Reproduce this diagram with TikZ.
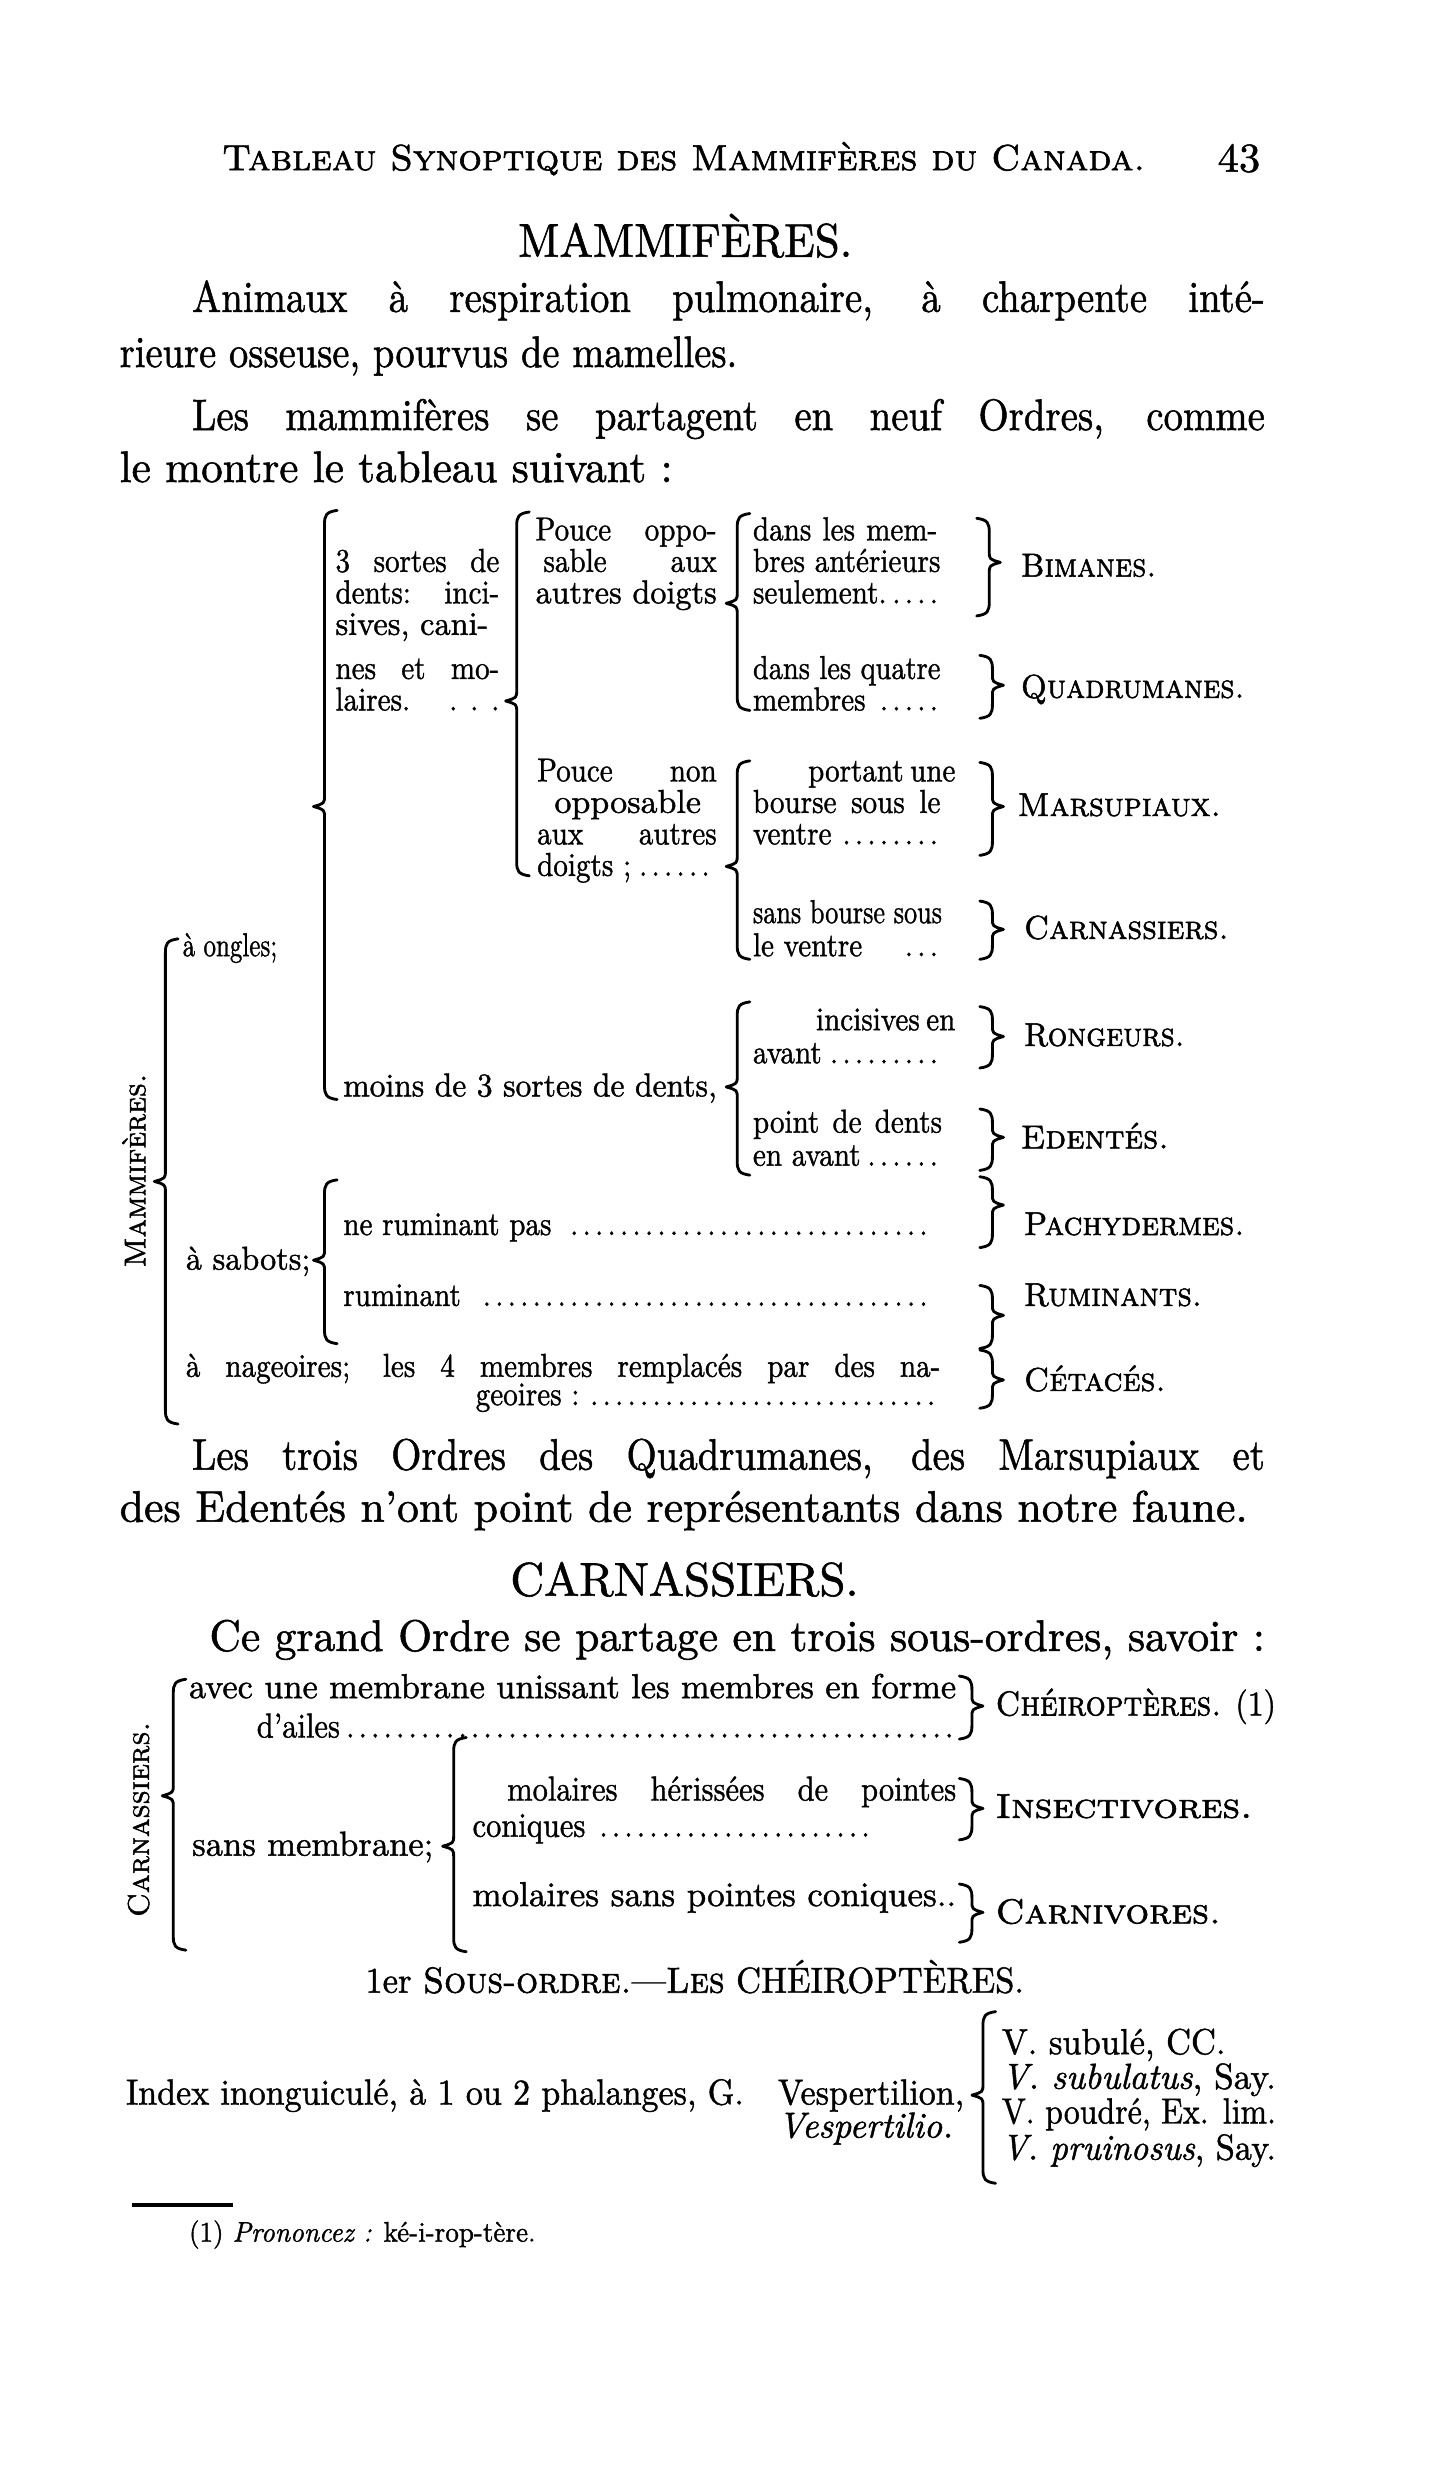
\documentclass[tikz,border=0pt]{standalone}
\usepackage{fontspec}
\setmainfont{lmroman10-regular.otf}[
  UprightFeatures={FakeBold=1.2},
  ItalicFont=lmroman10-italic.otf,
  ItalicFeatures={FakeBold=1.2},
  SmallCapsFont=lmromancaps10-regular.otf,
  SmallCapsFeatures={FakeBold=1.6}]
\usepackage{graphicx}
\def\bh{8}
\def\bt{7}
\newcommand\LBr[4]{\draw[brc] ({#1+\bh},{#2-1}) .. controls ({#1+1},#2) and (#1,{#2+2}) .. (#1,{#2+\bh}) -- (#1,{#3-\bt}) .. controls (#1,{#3-2}) .. ({#1-\bt},#3) .. controls (#1,{#3+2}) .. (#1,{#3+\bt}) -- (#1,{#4-\bh}) .. controls (#1,{#4-2}) and ({#1+1},#4) .. ({#1+\bh},{#4+1});}
\newcommand\RBr[4]{\draw[brc] ({#1-\bh},{#2-1}) .. controls ({#1-1},#2) and (#1,{#2+2}) .. (#1,{#2+\bh}) -- (#1,{#3-\bt}) .. controls (#1,{#3-2}) .. ({#1+\bt},#3) .. controls (#1,{#3+2}) .. (#1,{#3+\bt}) -- (#1,{#4-\bh}) .. controls (#1,{#4-2}) and ({#1-1},#4) .. ({#1-\bh},{#4+1});}
\newcommand\SL[6][]{\node[tx,#1] (#2) at (#3,#4) {\resizebox{#5pt}{\height}{#6}};}
\newcommand\JL[6][]{\node[tx,#1] (#2) at (#3,#4) {\scalebox{0.88}[1]{\hbox to \dimexpr #5pt*100/88\relax{#6}}};}
\newcommand\dl{\leaders\hbox to 9pt{\hss.\hss}\hfill}
\begin{document}
\begin{tikzpicture}[x=1pt,y=-1pt,
 tx/.style={anchor=base west,inner sep=0pt,outer sep=0pt},
 body/.style={font=\fontsize{28}{32}\selectfont},
 tab/.style={font=\fontsize{21}{25}\selectfont},
 ctab/.style={font=\fontsize{22}{26}\selectfont},
 big/.style={font=\fontsize{30}{34}\selectfont},
 mid/.style={font=\fontsize{23}{27}\selectfont},
 brc/.style={line width=1.8pt,line cap=round,line join=round}]
\useasboundingbox[fill=white] (0,0) rectangle (909,1568);

% header
\SL[mid]{hdr}{141}{108}{586}{\textsc{Tableau Synoptique des Mammifères du Canada.}}
\SL[font=\fontsize{26}{30}\selectfont]{pg}{773}{109}{27}{43}
\SL[big]{t1}{329}{163}{212}{MAMMIFÈRES.}
\JL[body]{p1a}{122}{198}{681}{Animaux à respiration pulmonaire, à charpente inté-}
\SL[body]{p1b}{76}{233}{392}{rieure osseuse, pourvus de mamelles.}
\JL[body]{p2a}{122}{273}{681}{Les mammifères se partagent en neuf Ordres, comme}
\SL[body]{p2b}{76}{306}{351}{le montre le tableau suivant :}

% table mammiferes
\JL[tab]{po1}{340}{343}{115}{Pouce oppo-}
\JL[tab]{bi1}{478}{343}{117}{dans les mem-}
\JL[tab]{ts1}{213}{363}{104}{3 sortes de}
\JL[tab]{po2}{345}{363}{110}{sable aux}
\JL[tab]{bi2}{478}{363}{119}{bres antérieurs}
\SL[tab]{lbim}{648}{366}{86}{\textsc{Bimanes.}}
\JL[tab]{ts2}{213}{383}{104}{dents: inci-}
\SL[tab]{po3}{340}{383}{115}{autres doigts}
\JL[tab]{bi3}{478}{383}{119}{seulement.\dl}
\SL[tab]{ts3}{213}{403}{97}{sives, cani-}
\JL[tab]{ts4}{213}{431}{104}{nes et mo-}
\SL[tab]{qu1}{478}{431}{119}{dans les quatre}
\SL[tab]{lqua}{648}{443}{142}{\textsc{Quadrumanes.}}
\JL[tab]{ts5}{213}{451}{104}{laires.\hfill. . .}
\JL[tab]{qu2}{478}{451}{119}{membres\dl}
\JL[tab]{pn1}{341}{496}{114}{Pouce non}
\JL[tab]{ma1}{513}{496}{82}{portant une}
\SL[tab]{pn2}{352}{516}{93}{opposable}
\JL[tab]{ma2}{478}{516}{119}{bourse sous le}
\SL[tab]{lmar}{646}{518}{129}{\textsc{Marsupiaux.}}
\JL[tab]{pn3}{341}{536}{114}{aux autres}
\JL[tab]{ma3}{478}{536}{119}{ventre\dl}
\JL[tab]{pn4}{341}{556}{114}{doigts ;\dl}
\SL[tab]{ca1}{478}{586}{120}{sans bourse sous}
\SL[tab]{lcar}{650}{596}{130}{\textsc{Carnassiers.}}
\SL[tab]{ong}{116}{607}{60}{à ongles;}
\JL[tab]{ca2}{478}{607}{119}{le ventre\quad\dl}
\JL[tab]{ro1}{518}{654}{79}{incisives en}
\SL[tab]{lron}{650}{664}{102}{\textsc{Rongeurs.}}
\JL[tab]{ro2}{478}{675}{119}{avant\dl}
\SL[tab]{moins}{218}{696}{237}{moins de 3 sortes de dents,}
\JL[tab]{ed1}{478}{719}{120}{point de dents}
\SL[tab]{lede}{648}{729}{94}{\textsc{Edentés.}}
\JL[tab]{ed2}{478}{740}{119}{en avant\dl}
\JL[tab]{pa}{218}{784}{379}{ne ruminant pas \dl}
\SL[tab]{lpac}{650}{784}{140}{\textsc{Pachydermes.}}
\SL[tab]{sab}{118}{806}{79}{à sabots;}
\JL[tab]{ru}{218}{829}{379}{ruminant \dl}
\SL[tab]{lrum}{650}{829}{113}{\textsc{Ruminants.}}
\JL[tab]{na1}{118}{874}{479}{à nageoires; les 4 membres remplacés par des na-}
\SL[tab]{lcet}{650}{883}{90}{\textsc{Cétacés.}}
\JL[tab]{na2}{302}{892}{295}{geoires :\dl}
\node[rotate=90,inner sep=0pt,font=\fontsize{19}{22}\selectfont] (lmam) at (85,743) {\resizebox{123pt}{\height}{\textsc{Mammifères.}}};

\LBr{105}{597}{750}{903}
\LBr{206}{325}{512}{697}
\LBr{328}{326}{445}{555}
\LBr{468}{327}{383}{450}
\LBr{468}{484}{550}{608}
\LBr{468}{637}{690}{745}
\LBr{206}{750}{800}{852}
\RBr{628}{330}{357}{390}
\RBr{630}{417}{435}{455}
\RBr{630}{485}{512}{542}
\RBr{630}{573}{590}{608}
\RBr{630}{640}{658}{677}
\RBr{630}{705}{722}{742}
\RBr{630}{748}{765}{791}
\RBr{630}{817}{835}{855}
\RBr{630}{858}{876}{893}

% paragraph
\JL[body]{b3a}{122}{933}{681}{Les trois Ordres des Quadrumanes, des Marsupiaux et}
\SL[body]{b3b}{76}{966}{716}{des Edentés n'ont point de représentants dans notre faune.}
\SL[big]{t2}{324}{1013}{221}{CARNASSIERS.}
\SL[body]{b4}{133}{1048}{670}{Ce grand Ordre se partage en trois sous-ordres, savoir :}

% table carnassiers
\SL[ctab]{c1}{120}{1078}{487}{avec une membrane unissant les membres en forme}
\JL[ctab]{c2}{163}{1103}{444}{d'ailes\dl}
\SL[ctab]{lche}{632}{1089}{178}{\textsc{Chéiroptères.} (1)}
\SL[ctab]{c3}{122}{1178}{153}{sans membrane;}
\JL[ctab]{c4}{322}{1143}{285}{molaires hérissées de pointes}
\JL[ctab]{c5}{300}{1166}{260}{coniques \dl}
\SL[ctab]{lins}{632}{1154}{163}{\textsc{Insectivores.}}
\SL[ctab]{c6}{300}{1210}{307}{molaires sans pointes coniques..}
\SL[ctab]{lcrn}{632}{1221}{143}{\textsc{Carnivores.}}
\node[rotate=90,inner sep=0pt,font=\fontsize{19}{22}\selectfont] (lcarn) at (88,1155) {\resizebox{124pt}{\height}{\textsc{Carnassiers.}}};
\LBr{110}{1067}{1140}{1237}
\LBr{288}{1104}{1172}{1238}
\RBr{617}{1065}{1083}{1103}
\RBr{617}{1130}{1148}{1167}
\RBr{617}{1197}{1214}{1232}

% sous-ordre
\SL[mid]{so}{232}{1265}{418}{1er \textsc{Sous-ordre.}---\textsc{Les} CHÉIROPTÈRES.}
\SL[mid]{idx}{80}{1336}{532}{Index inonguiculé, à 1 ou 2 phalanges, G.\quad Vespertilion,}
\SL[mid]{vesp}{494}{1357}{111}{\textit{Vespertilio.}}
\LBr{624}{1278}{1330}{1385}
\SL[mid]{v1}{636}{1304}{142}{V. subulé, CC.}
\SL[mid]{v2}{636}{1326}{174}{\textit{V. subulatus}, Say.}
\SL[mid]{v3}{636}{1348}{174}{V. poudré, Ex. lim.}
\SL[mid]{v4}{636}{1371}{174}{\textit{V. pruinosus}, Say.}
\draw[line width=2.5pt] (84,1400) -- (148,1400);
\SL[font=\fontsize{18}{21}\selectfont]{fn}{120}{1423}{220}{(1) \textit{Prononcez :} ké-i-rop-tère.}
\end{tikzpicture}
\end{document}
